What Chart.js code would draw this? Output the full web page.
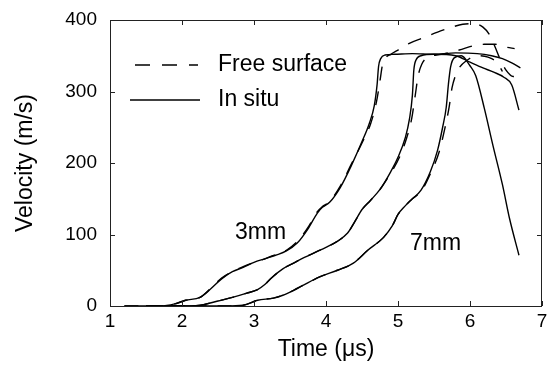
<!DOCTYPE html>
<html>
<head>
<meta charset="utf-8">
<script src="https://cdn.jsdelivr.net/npm/chart.js@4/dist/chart.umd.min.js"></script>
<style>
  body { margin: 0; background: #fff; }
  canvas { display: block; }
</style>
</head>
<body>
<canvas id="chart" width="547" height="367"></canvas>
<script>
// Axis ticks
const timeTicks = [1, 2, 3, 4, 5, 6, 7];
const velocityTicks = [0, 100, 200, 300, 400];

// 3mm - in situ (solid) and free surface (dashed)
const t3In = [1.2, 1.7, 1.9, 2.05, 2.25, 2.4, 2.55, 2.7, 2.85, 3.0, 3.15, 3.3, 3.45, 3.6, 3.75, 3.88, 3.95, 4.05, 4.2, 4.35, 4.5, 4.6, 4.67, 4.71, 4.73, 4.76, 4.82, 4.95, 5.2, 5.5, 5.8, 6.1, 6.3, 6.45, 6.58, 6.7];
const v3In = [0, 0, 3, 8, 12, 24, 38, 48, 54, 61, 66, 71, 77, 88, 108, 130, 138, 145, 166, 196, 230, 255, 280, 310, 335, 346, 351, 352, 353, 352, 354, 353, 350, 346, 340, 333];
const t3Free = [1.2, 1.7, 1.9, 2.05, 2.25, 2.4, 2.55, 2.7, 2.85, 3.0, 3.15, 3.3, 3.45, 3.6, 3.75, 3.88, 3.95, 4.05, 4.2, 4.35, 4.5, 4.62, 4.7, 4.75, 4.78, 4.82, 4.9, 5.0, 5.15, 5.35, 5.55, 5.75, 5.9, 6.05, 6.18, 6.28, 6.35, 6.42, 6.5, 6.6, 6.7];
const v3Free = [0, 0, 3, 8, 12, 25, 39, 48, 55, 61, 66, 72, 78, 90, 110, 132, 139, 146, 168, 198, 228, 255, 285, 315, 335, 346, 352, 358, 367, 375, 383, 390, 394, 395, 390, 378, 362, 345, 330, 321, 324];

// 5mm
const t5In = [1.5, 2.1, 2.3, 2.5, 2.7, 2.9, 3.05, 3.15, 3.25, 3.4, 3.55, 3.7, 3.85, 4.0, 4.15, 4.3, 4.4, 4.5, 4.62, 4.75, 4.9, 5.0, 5.1, 5.16, 5.2, 5.22, 5.25, 5.32, 5.5, 5.8, 6.0, 6.18, 6.33, 6.47, 6.58, 6.68];
const v5In = [0, 0, 2, 7, 12, 18, 23, 30, 40, 52, 60, 68, 75, 82, 90, 102, 118, 135, 148, 163, 188, 208, 235, 262, 295, 330, 344, 350, 352, 350, 341, 333, 327, 320, 309, 274];
const t5Free = [1.5, 2.1, 2.3, 2.5, 2.7, 2.9, 3.05, 3.15, 3.25, 3.4, 3.55, 3.7, 3.85, 4.0, 4.15, 4.3, 4.4, 4.5, 4.62, 4.75, 4.9, 5.02, 5.12, 5.19, 5.24, 5.28, 5.33, 5.4, 5.6, 5.85, 6.05, 6.2, 6.35, 6.5, 6.62];
const v5Free = [0, 0, 2, 7, 12, 18, 23, 30, 40, 52, 60, 68, 75, 82, 90, 102, 118, 135, 148, 163, 186, 208, 235, 262, 295, 322, 338, 347, 352, 358, 364, 366, 366, 362, 360];

// 7mm
const t7In = [1.8, 2.6, 2.85, 3.05, 3.27, 3.4, 3.55, 3.7, 3.92, 4.16, 4.38, 4.58, 4.8, 4.92, 5.0, 5.1, 5.2, 5.32, 5.45, 5.55, 5.62, 5.67, 5.7, 5.73, 5.78, 5.88, 6.0, 6.08, 6.2, 6.32, 6.45, 6.55, 6.68];
const v7In = [0, 0, 1, 8, 11, 15, 22, 30, 41, 50, 60, 78, 96, 112, 128, 140, 150, 162, 188, 218, 250, 278, 310, 334, 347, 350, 336, 322, 276, 224, 170, 122, 71];
const t7Free = [1.8, 2.6, 2.85, 3.05, 3.27, 3.4, 3.55, 3.7, 3.92, 4.16, 4.38, 4.58, 4.8, 4.92, 5.0, 5.1, 5.2, 5.32, 5.45, 5.57, 5.65, 5.71, 5.75, 5.79, 5.85, 5.95, 6.1, 6.25, 6.38, 6.45];
const v7Free = [0, 0, 1, 8, 11, 15, 22, 30, 41, 50, 60, 78, 96, 112, 128, 140, 150, 160, 185, 215, 248, 278, 305, 320, 333, 343, 350, 348, 340, 328];

const FONT = '"Liberation Sans", Arial, sans-serif';
const DASH = [14, 11];

function pairs(ts, vs) {
    return ts.map((t, i) => ({ x: t, y: vs[i] }));
}

function series(label, ts, vs, dashed) {
    return {
        label: label,
        data: pairs(ts, vs),
        borderColor: '#000',
        borderWidth: 1.4,
        borderDash: dashed ? DASH : [],
        pointRadius: 0,
        showLine: true,
        fill: false,
        cubicInterpolationMode: 'monotone'
    };
}

// Box, inward ticks, legend and labels
const decorations = {
    id: 'decorations',
    afterDraw(chart) {
        const { ctx, chartArea: a, scales: { x, y } } = chart;
        ctx.save();
        ctx.strokeStyle = '#222';
        ctx.lineWidth = 1;
        ctx.setLineDash([]);
        ctx.strokeRect(a.left + 0.5, a.top + 0.5, a.right - a.left - 1, a.bottom - a.top);

        ctx.beginPath();
        timeTicks.forEach(t => {
            const px = Math.round(x.getPixelForValue(t)) + 0.5;
            ctx.moveTo(px, a.bottom); ctx.lineTo(px, a.bottom - 5);
            ctx.moveTo(px, a.top); ctx.lineTo(px, a.top + 5);
        });
        velocityTicks.forEach(v => {
            const py = Math.round(y.getPixelForValue(v)) + 0.5;
            ctx.moveTo(a.left, py); ctx.lineTo(a.left + 5, py);
            ctx.moveTo(a.right, py); ctx.lineTo(a.right - 5, py);
        });
        ctx.stroke();

        // legend
        ctx.strokeStyle = '#000';
        ctx.lineWidth = 1.6;
        ctx.setLineDash([15, 12]);
        ctx.beginPath();
        ctx.moveTo(135, 65); ctx.lineTo(198, 65);
        ctx.stroke();
        ctx.setLineDash([]);
        ctx.beginPath();
        ctx.moveTo(130, 100); ctx.lineTo(200, 100);
        ctx.stroke();

        ctx.fillStyle = '#000';
        ctx.font = '23px ' + FONT;
        ctx.textBaseline = 'middle';
        ctx.textAlign = 'left';
        ctx.fillText('Free surface', 218, 65);
        ctx.fillText('In situ', 218, 100);
        ctx.fillText('3mm', 235, 233);
        ctx.fillText('7mm', 410, 244);
        ctx.restore();
    }
};

new Chart(document.getElementById('chart'), {
    type: 'scatter',
    data: {
        datasets: [
            series('3mm free surface', t3Free, v3Free, true),
            series('3mm in situ', t3In, v3In, false),
            series('5mm free surface', t5Free, v5Free, true),
            series('5mm in situ', t5In, v5In, false),
            series('7mm free surface', t7Free, v7Free, true),
            series('7mm in situ', t7In, v7In, false)
        ]
    },
    options: {
        responsive: false,
        animation: false,
        layout: { padding: { top: 20, right: 5, left: 0, bottom: 0 } },
        plugins: {
            legend: { display: false },
            tooltip: { enabled: false }
        },
        scales: {
            x: {
                type: 'linear',
                min: 1,
                max: 7,
                afterBuildTicks: scale => { scale.ticks = timeTicks.map(v => ({ value: v })); },
                afterFit: scale => { scale.height = 61; scale.paddingLeft = 0; scale.paddingRight = 0; },
                grid: { display: false, drawTicks: false },
                border: { display: false },
                ticks: { color: '#000', font: { family: FONT, size: 19 }, padding: 4, maxRotation: 0 },
                title: { display: true, text: 'Time (μs)', color: '#000', font: { family: FONT, size: 23 }, padding: { top: 4, bottom: 4 } }
            },
            y: {
                min: 0,
                max: 400,
                afterBuildTicks: scale => { scale.ticks = velocityTicks.map(v => ({ value: v })); },
                afterFit: scale => { scale.width = 110; scale.paddingTop = 0; scale.paddingBottom = 0; },
                grid: { display: false, drawTicks: false },
                border: { display: false },
                ticks: { color: '#000', font: { family: FONT, size: 19 }, padding: 13 },
                title: { display: true, text: 'Velocity (m/s)', color: '#000', font: { family: FONT, size: 23 }, padding: { top: 12, bottom: 4 } }
            }
        }
    },
    plugins: [decorations]
});
</script>
</body>
</html>
